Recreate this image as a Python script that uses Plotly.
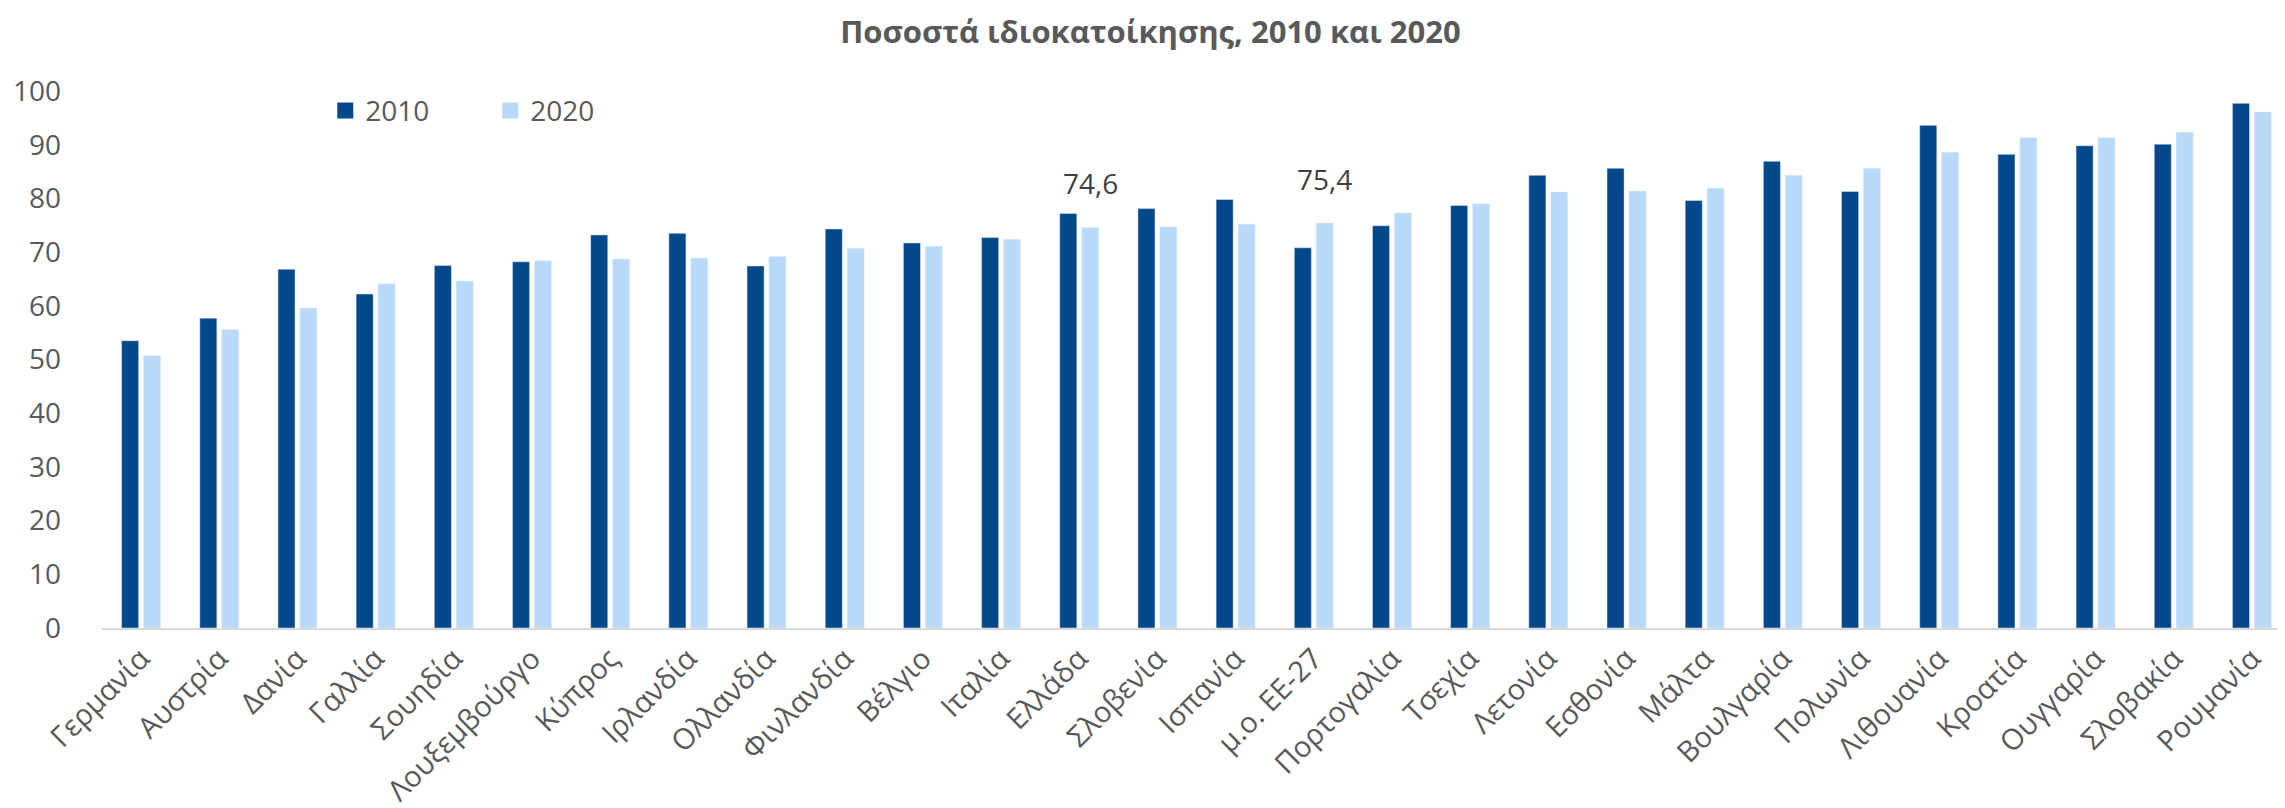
import plotly.graph_objects as go

countries = ['Γερμανία', 'Αυστρία', 'Δανία', 'Γαλλία', 'Σουηδία', 'Λουξεμβούργο', 'Κύπρος',
             'Ιρλανδία', 'Ολλανδία', 'Φινλανδία', 'Βέλγιο', 'Ιταλία', 'Ελλάδα', 'Σλοβενία',
             'Ισπανία', 'μ.ο. ΕΕ-27', 'Πορτογαλία', 'Τσεχία', 'Λετονία', 'Εσθονία', 'Μάλτα',
             'Βουλγαρία', 'Πολωνία', 'Λιθουανία', 'Κροατία', 'Ουγγαρία', 'Σλοβακία', 'Ρουμανία']
y2010 = [53.5, 57.7, 66.8, 62.2, 67.5, 68.2, 73.2, 73.5, 67.4, 74.3, 71.7, 72.7, 77.2, 78.1,
         79.8, 70.8, 74.9, 78.7, 84.3, 85.6, 79.6, 86.9, 81.3, 93.6, 88.2, 89.8, 90.1, 97.7]
y2020 = [50.7, 55.6, 59.6, 64.1, 64.6, 68.4, 68.7, 68.9, 69.2, 70.7, 71.1, 72.4, 74.6, 74.7,
         75.2, 75.4, 77.3, 79.0, 81.2, 81.4, 81.9, 84.3, 85.6, 88.6, 91.3, 91.3, 92.3, 96.1]
labelled = ['Ελλάδα', 'μ.ο. ΕΕ-27']

FONT = 'Open Sans'
GREY = '#595959'
colors = {'2010': '#03488A', '2020': '#B8D9FA'}

fig = go.Figure()
fig.add_trace(go.Bar(x=countries, y=y2010, name='2010', marker_color=colors['2010'], showlegend=False))
fig.add_trace(go.Bar(x=countries, y=y2020, name='2020', marker_color=colors['2020'], showlegend=False))
# bigger square legend keys than the bar default
for name, col in colors.items():
    fig.add_trace(go.Scatter(x=[None], y=[None], mode='markers', name=name,
                             marker=dict(symbol='square', size=19, color=col)))

for c in labelled:
    v = y2020[countries.index(c)]
    fig.add_annotation(x=c, y=v, text=f'{v:.1f}'.replace('.', ','), showarrow=False,
                       xshift=11, yshift=23, yanchor='bottom',
                       font=dict(family=FONT, size=28, color='#404040'))

fig.update_layout(
    width=2285, height=808,
    title=dict(text='<b>Ποσοστά ιδιοκατοίκησης, 2010 και 2020</b>', x=0.5, xref='container',
               y=0.97, yanchor='middle', font=dict(family=FONT, size=31, color=GREY)),
    font=dict(family=FONT, size=28, color=GREY),
    barmode='group', bargap=0.44, bargroupgap=0.22,
    plot_bgcolor='white', paper_bgcolor='white',
    margin=dict(l=94, r=2, t=83, b=188),
    legend=dict(orientation='h', x=0.102, y=0.963, xanchor='left', yanchor='middle',
                font=dict(family=FONT, size=28, color=GREY), entrywidth=120,
                itemsizing='trace', bgcolor='rgba(0,0,0,0)'),
    showlegend=True,
)
fig.update_xaxes(tickangle=-45, showline=True, linecolor='#D9D9D9', linewidth=2,
                 ticks='', tickfont=dict(family=FONT, size=29, color=GREY))
fig.update_yaxes(range=[0, 100], dtick=10, showgrid=False, zeroline=False, showline=False,
                 ticklabelstandoff=40, tickfont=dict(family=FONT, size=28, color=GREY))

fig.write_html('out.html')
